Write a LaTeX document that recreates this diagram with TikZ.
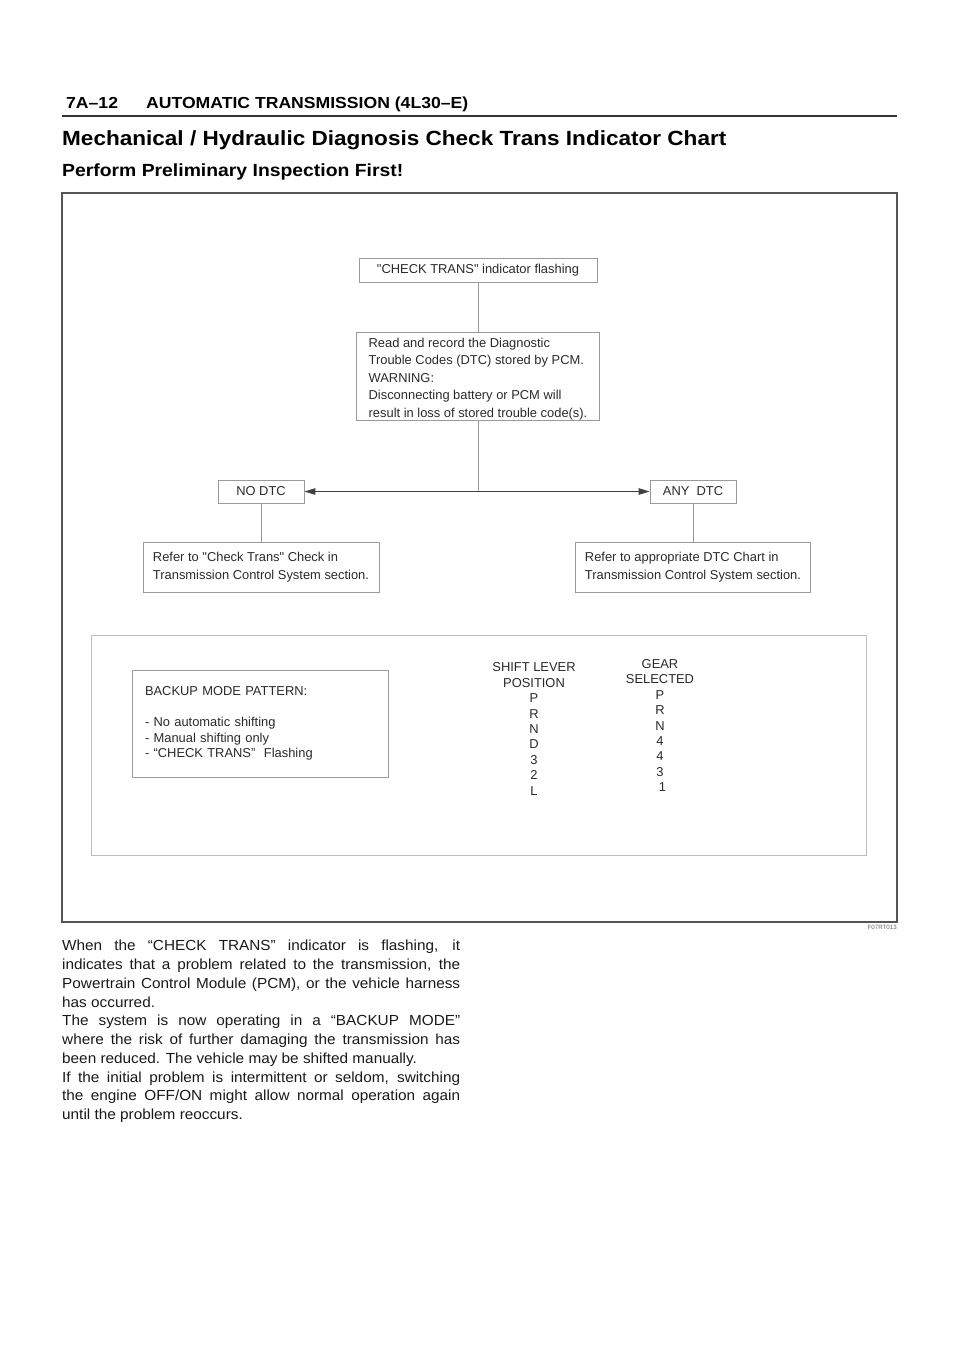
\documentclass[tikz,border=0pt]{standalone}
\usepackage{fontspec}
\setmainfont{Liberation Sans}[Ligatures=TeXOff]
\newfontfamily\widefont[FakeStretch=1.1,Ligatures=TeXOff]{Liberation Sans}
\newfontfamily\bodyfont[FakeStretch=1.05,Ligatures=TeXOff]{Liberation Sans}
\usetikzlibrary{arrows.meta}
\definecolor{boxgray}{HTML}{9A9A9A}
\definecolor{framegray}{HTML}{555555}
\definecolor{panelgray}{HTML}{BDBDBD}
\definecolor{txt}{HTML}{2A2A2A}
\definecolor{arrowgray}{HTML}{404040}
\begin{document}
\begin{tikzpicture}[x=1pt,y=-1pt,
  box/.style={draw=boxgray, line width=0.9pt, inner xsep=6pt, inner ysep=0pt,
    align=left, text=txt, font=\fontsize{12.9}{17.5}\selectfont},
  plain/.style={inner sep=0pt, align=left, text=txt, font=\fontsize{12.9}{17.5}\selectfont},
  tablecol/.style={align=center, text=txt, inner sep=0pt,
    font=\fontsize{12.9}{15.45}\selectfont},
  link/.style={draw=boxgray, line width=0.9pt},
  branch/.style={draw=arrowgray, line width=1.1pt, -{Triangle[length=11pt,width=6.5pt]}},
  heading/.style={anchor=base west, inner sep=0pt, text=black},
]
\useasboundingbox (0,0) rectangle (960,1358);

% page header
\node[heading, font=\widefont\bfseries\fontsize{16}{18}\selectfont] (pg) at (66,108) {7A–12};
\node[heading, font=\widefont\bfseries\fontsize{16}{18}\selectfont] (hd) at (146,108) {AUTOMATIC TRANSMISSION (4L30–E)};
\draw[line width=1.6pt, draw=black!80] (62,116) -- (897,116);
\node[heading, font=\widefont\bfseries\fontsize{20.5}{24}\selectfont] (title) at (62,145) {Mechanical / Hydraulic Diagnosis Check Trans Indicator Chart};
\node[heading, font=\widefont\bfseries\fontsize{17.6}{20}\selectfont] (sub) at (62,176) {Perform Preliminary Inspection First!};

% frame
\draw[draw=framegray, line width=1.4pt] (62,193) rectangle (897,922);
\node[anchor=north east, inner sep=0pt, text=black!60, font=\fontsize{6.2}{7}\selectfont] (fig) at (897,925) {F07RT013};

% flow chart
\node[box, minimum width=238pt, minimum height=24pt] (b1) at (478,270) {"CHECK TRANS" indicator flashing};
\node[box, minimum width=243pt, minimum height=88pt] (b2) at (478,376) {};
\node[plain, yshift=-3pt] (b2t) at (b2.center)
  {Read and record the Diagnostic\\Trouble Codes (DTC) stored by PCM.\\WARNING:\\Disconnecting battery or PCM will\\result in loss of stored trouble code(s).};
\coordinate (j) at (478,491.5);
\node[box, minimum width=86pt, minimum height=23pt] (nodtc) at (261,491.5) {NO DTC};
\node[box, minimum width=86pt, minimum height=23pt] (anydtc) at (693,491.5) {ANY\ \ DTC};
\node[box, minimum width=236pt, minimum height=50pt] (lbox) at (261,567)
  {Refer to "Check Trans" Check in\\Transmission Control System section.};
\node[box, minimum width=235pt, minimum height=50pt] (rbox) at (693,567)
  {Refer to appropriate DTC Chart in\\Transmission Control System section.};

\draw[link] (b1.south) -- (b2.north);
\draw[link] (b2.south) -- (j);
\draw[branch] (j) -- (nodtc.east);
\draw[branch] (j) -- (anydtc.west);
\draw[link] (nodtc.south) -- (lbox.north);
\draw[link] (anydtc.south) -- (rbox.north);

% backup mode panel
\draw[draw=panelgray, line width=0.9pt] (91,635) rectangle (866,855);
\node[box, minimum width=256pt, minimum height=107pt, text width=230pt, inner xsep=13pt,
  font=\fontsize{12.9}{15.45}\selectfont] (bk) at (260,723.5)
  {BACKUP MODE PATTERN:\\[15.45pt]- No automatic shifting\\- Manual shifting only\\- “CHECK TRANS”\ \ Flashing\\[5pt]};
\node[tablecol] (slp) at (534,729)
  {SHIFT LEVER\\POSITION\\P\\R\\N\\D\\3\\2\\L};
\node[tablecol] (gs) at (660,725.5)
  {GEAR\\SELECTED\\P\\R\\N\\4\\4\\3\\\hspace*{5pt}1};

% body text
\node[anchor=north west, inner sep=0pt, text width=398pt, align=justify, text=black!90,
  font=\bodyfont\fontsize{14.6}{18.75}\selectfont] (body) at (62,940)
  {When the “CHECK TRANS” indicator is flashing, it\linebreak
   indicates that a problem related to the transmission, the\linebreak
   Powertrain Control Module (PCM), or the vehicle harness\linebreak
   has occurred.\\
   The system is now operating in a “BACKUP MODE”\linebreak
   where the risk of further damaging the transmission has\linebreak
   been reduced. The vehicle may be shifted manually.\\
   If the initial problem is intermittent or seldom, switching\linebreak
   the engine OFF/ON might allow normal operation again\linebreak
   until the problem reoccurs.};
\end{tikzpicture}
\end{document}
